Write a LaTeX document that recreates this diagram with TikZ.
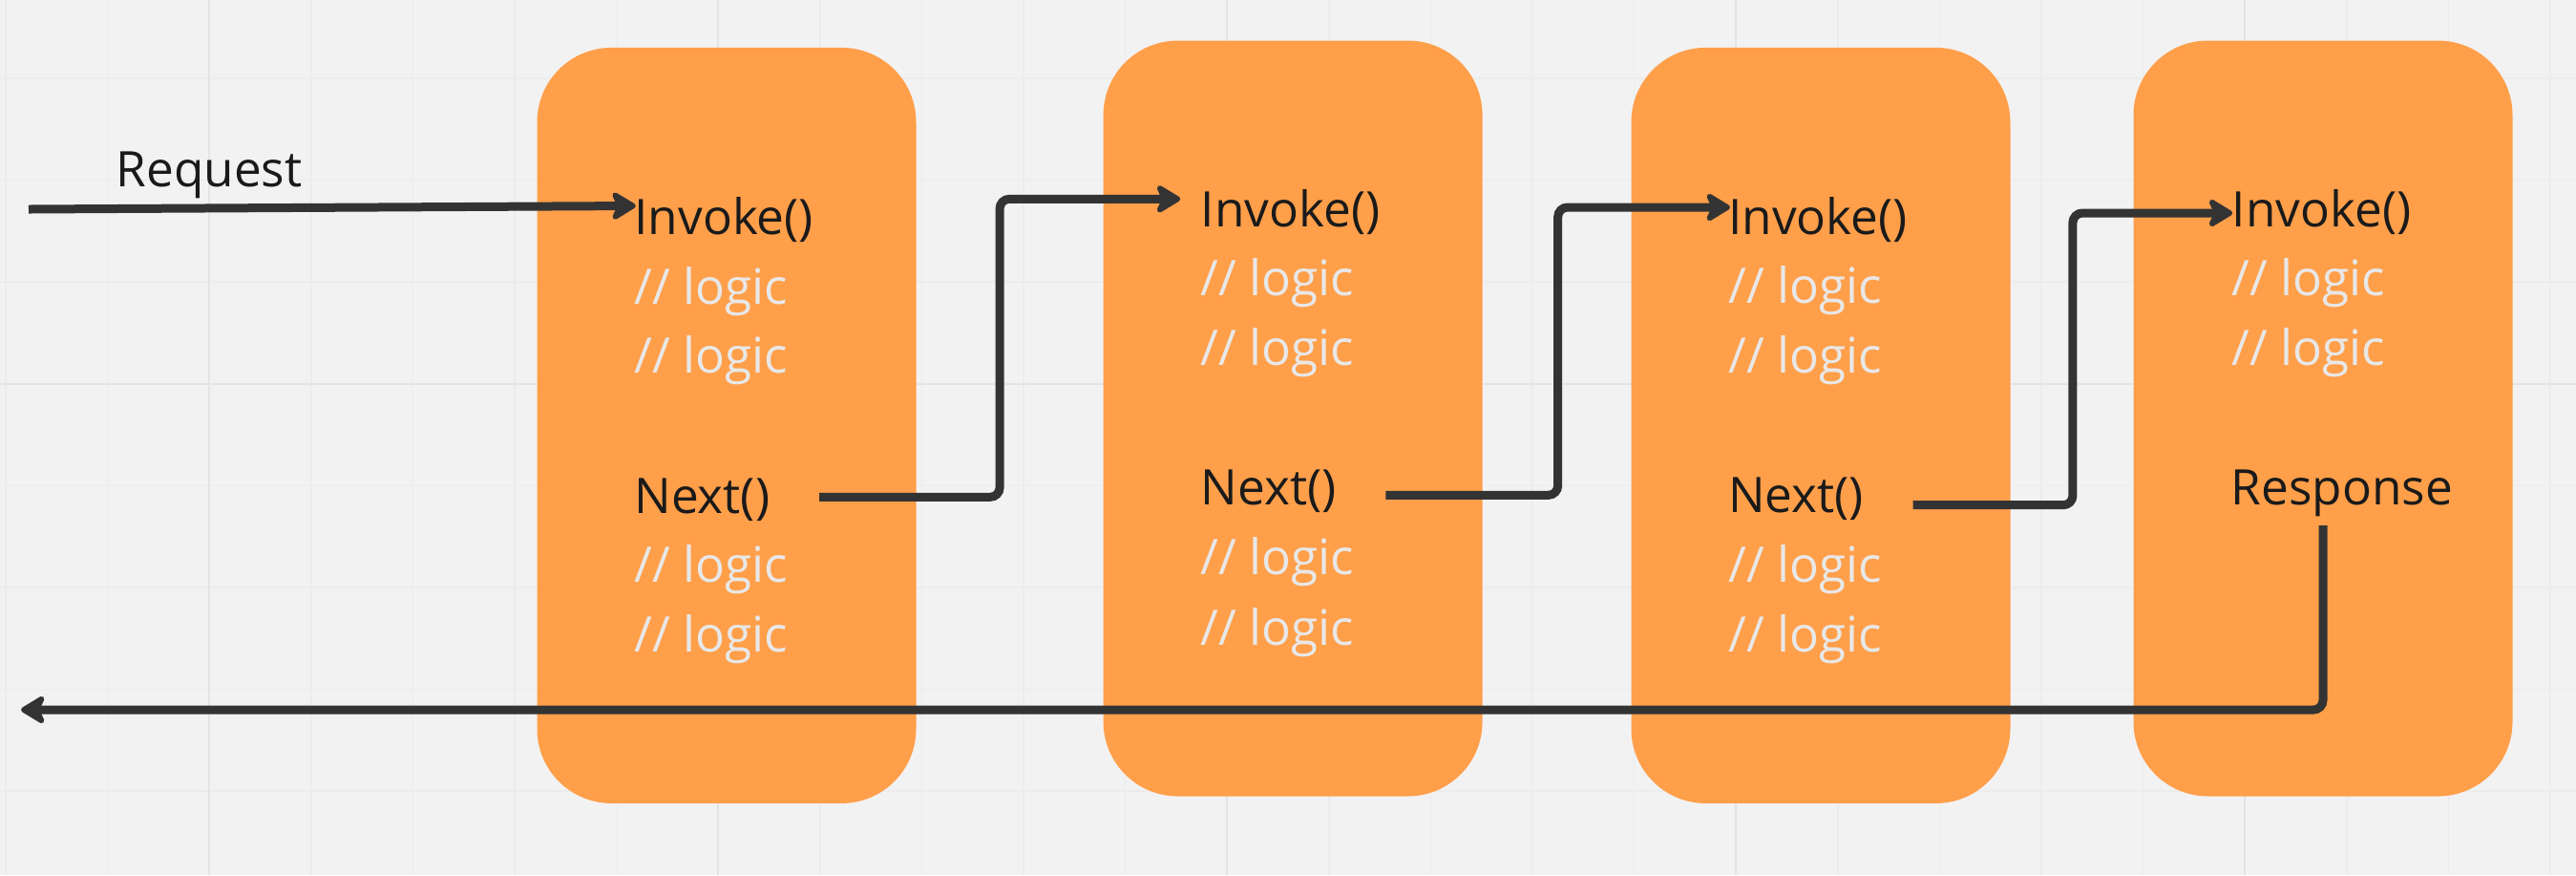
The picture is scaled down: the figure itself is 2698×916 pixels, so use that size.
\documentclass[tikz,border=0pt]{standalone}
\usepackage{fontspec}
\setmainfont{Open Sans}
\usetikzlibrary{arrows.meta,calc}
\definecolor{boardbg}{HTML}{F2F2F2}
\definecolor{gridminor}{HTML}{ECECEC}
\definecolor{gridmajor}{HTML}{E4E4E4}
\definecolor{stageorange}{HTML}{FF9F4A}
\definecolor{calltext}{HTML}{1A1A1A}
\definecolor{logicgray}{HTML}{E8E8E8}
\definecolor{flowgray}{HTML}{333333}

\begin{document}
\begin{tikzpicture}[x=0.1mm, y=-0.1mm, font=\fontsize{14.6}{17}\selectfont]
  \tikzstyle{gridline} = [draw=gridminor, line width=0.15mm]
  \tikzstyle{gridbold} = [draw=gridmajor, line width=0.2mm]
  \tikzstyle{stage}    = [rectangle, rounded corners=7.8mm, fill=stageorange, minimum width=39.7mm, minimum height=79.1mm, inner sep=0pt]
  \tikzstyle{call}     = [anchor=base west, inner sep=0pt, text=calltext]
  \tikzstyle{logic}    = [anchor=base west, inner sep=0pt, text=logicgray]
  \tikzstyle{flow}     = [draw=flowgray, line width=0.9mm, rounded corners=1mm, -{Stealth[length=3mm, width=3.6mm, inset=0.8mm, round]}]
  % board with grid
  \useasboundingbox (0,0) rectangle (2698,916);
  \fill[boardbg] (0,0) rectangle (2698,916);
  \foreach \i in {0,...,25} \draw[gridline] ({6+106.6*\i},0) -- ({6+106.6*\i},916);
  \foreach \j in {0,...,7} \draw[gridline] (0,{82+106.6*\j}) -- (2698,{82+106.6*\j});
  \foreach \i in {2,7,12,17,22} \draw[gridbold] ({6+106.6*\i},0) -- ({6+106.6*\i},916);
  \draw[gridbold] (0,402) -- (2698,402);
  % middlewares
  \path ( 761.0, 445.4) node[stage](mw1) {};
  \path (1354.1, 438.0) node[stage](mw2) {};
  \path (1907.0, 445.4) node[stage](mw3) {};
  \path (2433.0, 438.0) node[stage](mw4) {};
  % texts
  \path ( 121.0, 195.0) node[call](req) {Request};
  \path ( 663.8, 245.5) node[call](inv1) {Invoke()};
  \path ( 663.8, 318.0) node[logic](l1a) {// logic};
  \path ( 663.8, 390.5) node[logic](l1b) {// logic};
  \path ( 663.8, 537.3) node[call](nxt1) {Next()};
  \path ( 663.8, 609.7) node[logic](l1c) {// logic};
  \path ( 663.8, 682.0) node[logic](l1d) {// logic};
  \path (1257.2, 237.3) node[call](inv2) {Invoke()};
  \path (1257.2, 309.5) node[logic](l2a) {// logic};
  \path (1257.2, 382.0) node[logic](l2b) {// logic};
  \path (1257.2, 528.3) node[call](nxt2) {Next()};
  \path (1257.2, 601.7) node[logic](l2c) {// logic};
  \path (1257.2, 675.0) node[logic](l2d) {// logic};
  \path (1809.5, 245.0) node[call](inv3) {Invoke()};
  \path (1809.5, 317.0) node[logic](l3a) {// logic};
  \path (1809.5, 390.0) node[logic](l3b) {// logic};
  \path (1809.5, 536.7) node[call](nxt3) {Next()};
  \path (1809.5, 609.0) node[logic](l3c) {// logic};
  \path (1809.5, 682.0) node[logic](l3d) {// logic};
  \path (2337.2, 237.0) node[call](inv4) {Invoke()};
  \path (2337.2, 309.6) node[logic](l4a) {// logic};
  \path (2337.2, 382.0) node[logic](l4b) {// logic};
  \path (2336.0, 528.0) node[call](resp) {Response};
  % connector ends
  \coordinate (reqin)   at (30, 219);
  \coordinate (respout) at (22, 743);
  \coordinate (o1) at ([xshift=5.1mm, yshift=1.7mm]nxt1.base east);
  \coordinate (o2) at ([xshift=5.1mm, yshift=1.0mm]nxt2.base east);
  \coordinate (o3) at ([xshift=5.1mm, yshift=0.8mm]nxt3.base east);
  \coordinate (i1) at ([xshift=0.2mm, yshift=3.0mm]inv1.base west);
  \coordinate (i2) at ([xshift=-2.1mm, yshift=2.9mm]inv2.base west);
  \coordinate (i3) at ([xshift=0.25mm, yshift=2.8mm]inv3.base west);
  \coordinate (i4) at ([xshift=0.1mm, yshift=1.4mm]inv4.base west);
  % connectors
  \draw[flow] (reqin) -- (i1);
  \draw[flow] (o1) -| ($(o1)!0.5!(i2)$) |- (i2);
  \draw[flow] (o2) -| ($(o2)!0.5!(i3)$) |- (i3);
  \draw[flow] (o3) -| ($(o3)!0.5!(i4)$) |- (i4);
  \draw[flow] ($(resp.south -| mw4.center)+(0,9)$) |- (respout);
\end{tikzpicture}
\end{document}
